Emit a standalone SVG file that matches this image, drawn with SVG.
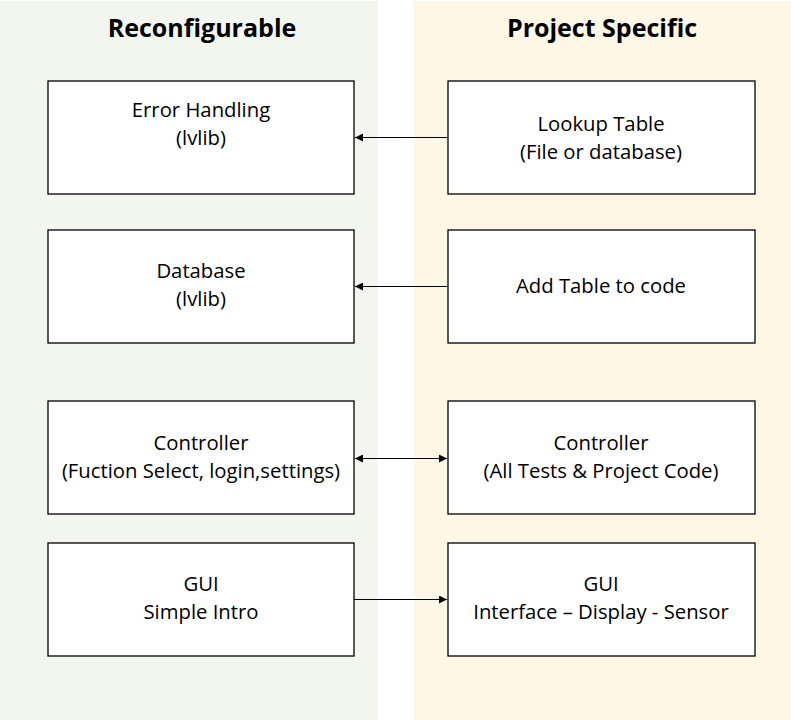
<svg xmlns="http://www.w3.org/2000/svg" width="791" height="720" viewBox="0 0 791 720">
<style>
.t{font-family:"Open Sans","Liberation Sans",sans-serif;font-size:20.3px;fill:#000;text-anchor:middle}
.h{font-family:"Open Sans","Liberation Sans",sans-serif;font-size:25px;font-weight:bold;fill:#000;text-anchor:middle}
.b{fill:#fff;stroke:#000;stroke-width:1.3}
.c{stroke:#000;stroke-width:1;fill:none}
</style>
<defs>
<marker id="a" viewBox="0 0 10 10" refX="10" refY="5" markerWidth="8" markerHeight="8" markerUnits="userSpaceOnUse" orient="auto-start-reverse"><path d="M0,0L10,5L0,10z" fill="#000"/></marker>
</defs>
<rect x="0" y="1" width="378" height="719" fill="#f3f6ee"/>
<rect x="413" y="1" width="378" height="719" fill="#fef7e5"/>
<text class="h" x="202" y="37">Reconfigurable</text>
<text class="h" x="602" y="37">Project Specific</text>
<g id="n1"><rect class="b" x="48" y="81" width="306" height="113"/><text class="t" x="201" y="117">Error Handling</text><text class="t" x="201" y="145">(lvlib)</text></g>
<g id="n2"><rect class="b" x="448" y="81" width="307" height="113"/><text class="t" x="601" y="131">Lookup Table</text><text class="t" x="601" y="159">(File or database)</text></g>
<g id="n3"><rect class="b" x="48" y="230" width="306" height="113"/><text class="t" x="201" y="278">Database</text><text class="t" x="201" y="306">(lvlib)</text></g>
<g id="n4"><rect class="b" x="448" y="230" width="307" height="113"/><text class="t" x="601" y="293">Add Table to code</text></g>
<g id="n5"><rect class="b" x="48" y="401" width="306" height="113"/><text class="t" x="201" y="450">Controller</text><text class="t" x="201" y="478">(Fuction Select, login,settings)</text></g>
<g id="n6"><rect class="b" x="448" y="401" width="307" height="113"/><text class="t" x="601" y="450">Controller</text><text class="t" x="601" y="478">(All Tests &amp; Project Code)</text></g>
<g id="n7"><rect class="b" x="48" y="543" width="306" height="113"/><text class="t" x="201" y="591">GUI</text><text class="t" x="201" y="619">Simple Intro</text></g>
<g id="n8"><rect class="b" x="448" y="543" width="307" height="113"/><text class="t" x="601" y="591">GUI</text><text class="t" x="601" y="619">Interface – Display - Sensor</text></g>
<g id="connectors">
<line class="c" x1="448" y1="137.5" x2="355" y2="137.5" marker-end="url(#a)"/>
<line class="c" x1="448" y1="286.5" x2="355" y2="286.5" marker-end="url(#a)"/>
<line class="c" x1="355" y1="458.5" x2="447" y2="458.5" marker-start="url(#a)" marker-end="url(#a)"/>
<line class="c" x1="354" y1="599.5" x2="447" y2="599.5" marker-end="url(#a)"/>
</g>
</svg>
